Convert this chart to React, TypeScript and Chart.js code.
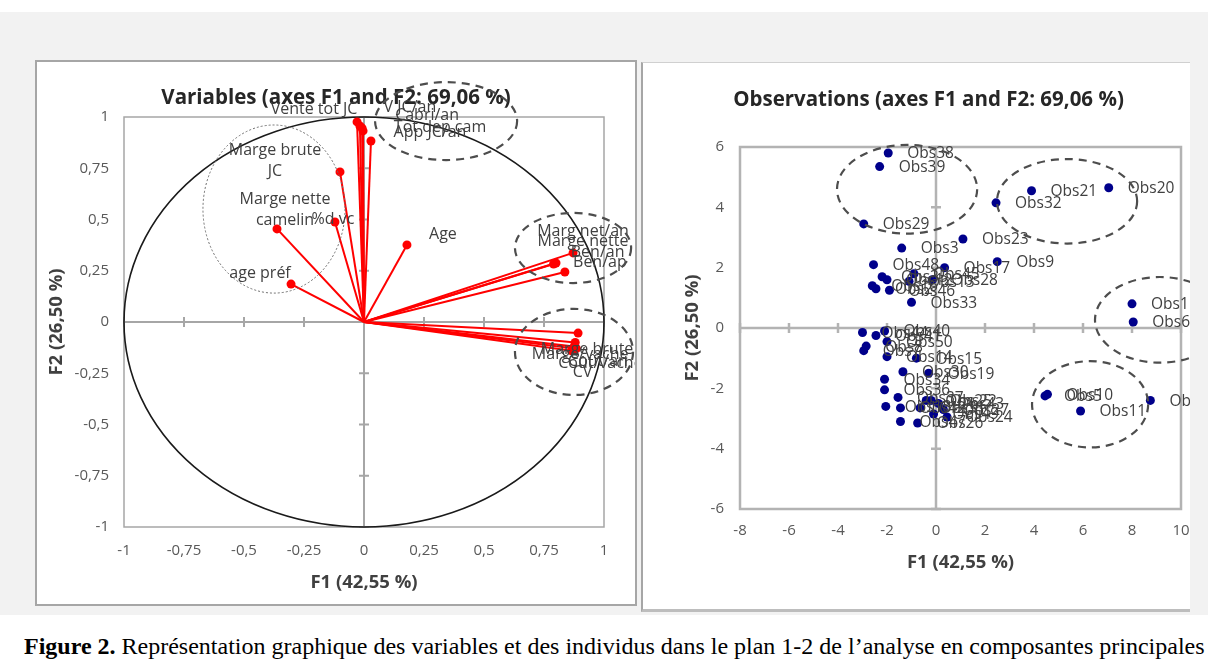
import React, { useEffect, useRef } from "react";
import { Chart, registerables } from "chart.js";

Chart.register(...registerables);

// ---------- Variables (correlation circle) ----------
const VAR_NAMES = [
  "Vente tot JC", "V JC/an", "Cabri/an", "Tot dep cam", "App JC/an",
  "Marge brute\nJC", "Marge nette\ncamelin", "%d vc", "age préf", "Age",
  "Marg net/an", "Marge nette", "Ben/an", "Ben/ap",
  "Marge brute", "Marge/vache", "Coût/an", "Coût/vache", "CV",
];
const VAR_F1 = [-0.029, -0.017, -0.008, -0.004, 0.029, -0.1, -0.3625, -0.121, -0.304, 0.179, 0.871, 0.8, 0.79, 0.837, 0.892, 0.88, 0.875, 0.885, 0.865];
const VAR_F2 = [0.976, 0.956, 0.946, 0.932, 0.883, 0.732, 0.454, 0.488, 0.185, 0.376, 0.337, 0.288, 0.283, 0.244, -0.054, -0.1, -0.12, -0.13, -0.14];
// label offsets (px) from each arrow tip
const VAR_LABEL_DX = [-43, 50, 65, 77, 59, -65, 8, -2, -31, 36, 10, 27, 44, 35, 9, 5, 24, 24, 11];
const VAR_LABEL_DY = [-12, -19, -13, -4, -9, -22, -29, -3, -11, -10, -21, -22, -12, -10, 16, 12, 15, 15, 22];

// dashed groups on the variables chart (data units)
const VAR_GROUP_CX = [0.342, 0.871, 0.875];
const VAR_GROUP_CY = [0.98, 0.361, -0.146];
const VAR_GROUP_RX = [0.296, 0.242, 0.246];
const VAR_GROUP_RY = [0.19, 0.171, 0.21];
const VAR_DOTTED = [-0.375, 0.551, 0.296, 0.41];

// ---------- Observations ----------
const OBS_NAMES = [
  "Obs1", "Obs6", "Obs20", "Obs21", "Obs32", "Obs38", "Obs39", "Obs29", "Obs23", "Obs3",
  "Obs9", "Obs17", "Obs48", "Obs28", "Obs35", "Obs12", "Obs46", "Obs2", "Obs16", "Obs45",
  "Obs13", "Obs33", "Obs5", "Obs10", "Obs11", "Obs4", "Obs44", "Obs41", "Obs40", "Obs7",
  "Obs8", "Obs50", "Obs14", "Obs15", "Obs30", "Obs19", "Obs34", "Obs36", "Obs37", "Obs18",
  "Obs42", "Obs47", "Obs26", "Obs25", "Obs22", "Obs31", "Obs24", "Obs27", "Obs43", "Obs49",
];
const OBS_F1 = [
  8.0, 8.05, 7.05, 3.9, 2.45, -1.95, -2.3, -2.95, 1.1, -1.4,
  2.5, 0.35, -2.55, -0.15, -2.2, -2.0, -1.9, -2.45, -2.6, -0.9,
  -1.1, -1.0, 4.45, 4.55, 5.9, 8.75, -3.0, -2.45, -2.1, -2.95,
  -2.85, -2.0, -2.0, -0.8, -1.35, -0.3, -2.1, -2.1, -1.55, -2.05,
  -1.45, -1.45, -0.75, -0.4, -0.2, -0.65, 0.45, 0.3, 0.1, -0.1,
];
const OBS_F2 = [
  0.8, 0.2, 4.65, 4.55, 4.15, 5.8, 5.35, 3.45, 2.95, 2.65,
  2.2, 2.0, 2.1, 1.6, 1.7, 1.6, 1.25, 1.3, 1.4, 1.8,
  1.55, 0.85, -2.25, -2.2, -2.75, -2.4, -0.15, -0.25, -0.1, -0.75,
  -0.6, -0.45, -0.95, -1.0, -1.45, -1.5, -1.7, -2.05, -2.3, -2.6,
  -2.65, -3.1, -3.15, -2.4, -2.4, -2.65, -2.95, -2.7, -2.5, -2.85,
];
const OBS_GROUP_CX = [-1.18, 5.35, 9.14, 6.29];
const OBS_GROUP_CY = [4.6, 4.2, 0.27, -2.53];
const OBS_GROUP_RX = [2.86, 2.86, 2.65, 2.37];
const OBS_GROUP_RY = [1.47, 1.4, 1.42, 1.43];

const TITLE_VAR = "Variables (axes F1 and F2: 69,06 %)";
const TITLE_OBS = "Observations (axes F1 and F2: 69,06 %)";
const X_TITLE = "F1 (42,55 %)";
const Y_TITLE = "F2 (26,50 %)";

const FONT = "'Open Sans', 'Liberation Sans', sans-serif";
const TEXT = "#404040";
const TICK = "#595959";

const fmt = (v: number) => String(Math.round(v * 100) / 100).replace(".", ",");

function ellipse(ctx: CanvasRenderingContext2D, xs: any, ys: any, cx: number, cy: number, rx: number, ry: number) {
  const px = xs.getPixelForValue(cx);
  const py = ys.getPixelForValue(cy);
  const prx = Math.abs(xs.getPixelForValue(cx + rx) - px);
  const pry = Math.abs(ys.getPixelForValue(cy + ry) - py);
  ctx.beginPath();
  ctx.ellipse(px, py, prx, pry, 0, 0, Math.PI * 2);
}

function frameAndAxes(chart: any, boxColor: string, boxWidth: number, axisColor: string, axisWidth: number) {
  const { ctx, chartArea: a, scales } = chart;
  const xs = scales.x, ys = scales.y;
  ctx.save();
  ctx.strokeStyle = boxColor;
  ctx.lineWidth = boxWidth;
  ctx.strokeRect(a.left, a.top, a.right - a.left, a.bottom - a.top);
  const x0 = xs.getPixelForValue(0);
  const y0 = ys.getPixelForValue(0);
  ctx.strokeStyle = axisColor;
  ctx.lineWidth = axisWidth;
  ctx.beginPath();
  ctx.moveTo(a.left, y0); ctx.lineTo(a.right, y0);
  ctx.moveTo(x0, a.top); ctx.lineTo(x0, a.bottom);
  xs.ticks.forEach((t: any) => {
    const p = xs.getPixelForValue(t.value);
    ctx.moveTo(p, y0 - 5); ctx.lineTo(p, y0 + 5);
  });
  ys.ticks.forEach((t: any) => {
    const p = ys.getPixelForValue(t.value);
    ctx.moveTo(x0 - 5, p); ctx.lineTo(x0 + 5, p);
  });
  ctx.stroke();
  ctx.restore();
}

function makeScales(o: {
  min: number; max: number; step: number; ymin: number; ymax: number; ystep: number;
  yWidth: number; rightSpace: number; xHeight: number; xTickPad: number; yTickPad: number; xTitlePad: number; yTitlePad: number;
}) {
  const tickFont = { family: FONT, size: 15 };
  const titleFont = { family: FONT, size: 18.5, weight: "bold" as const };
  return {
    x: {
      type: "linear" as const, position: "bottom" as const,
      min: o.min, max: o.max,
      grid: { display: false, drawTicks: false },
      border: { display: false },
      ticks: { stepSize: o.step, color: TICK, font: tickFont, padding: o.xTickPad, callback: (v: any) => fmt(Number(v)), maxRotation: 0, autoSkip: false },
      title: { display: true, text: X_TITLE, color: TEXT, font: titleFont, padding: { top: 0, bottom: o.xTitlePad } },
      afterFit: (s: any) => { s.height = o.xHeight; },
    },
    y: {
      type: "linear" as const, position: "left" as const,
      min: o.ymin, max: o.ymax,
      grid: { display: false, drawTicks: false },
      border: { display: false },
      ticks: { stepSize: o.ystep, color: TICK, font: tickFont, padding: o.yTickPad, callback: (v: any) => fmt(Number(v)), autoSkip: false },
      title: { display: true, text: Y_TITLE, color: TEXT, font: titleFont, padding: { top: o.yTitlePad, bottom: 0 } },
      afterFit: (s: any) => { s.width = o.yWidth; },
    },
    // empty spacer on the right so the title stays centred on the whole panel
    spacer: {
      type: "linear" as const, position: "right" as const, axis: "y" as const,
      min: 0, max: 1,
      grid: { display: false, drawTicks: false },
      border: { display: false },
      ticks: { display: false },
      afterFit: (s: any) => { s.width = o.rightSpace; },
    },
  };
}

function VariablesChart() {
  const ref = useRef<HTMLCanvasElement>(null);
  useEffect(() => {
    const canvas = ref.current!;
    const datasets = VAR_NAMES.map((n, i) => ({
      label: n,
      data: [{ x: 0, y: 0 }, { x: VAR_F1[i], y: VAR_F2[i] }],
      showLine: true,
      borderColor: "#ff0000",
      backgroundColor: "#ff0000",
      borderWidth: 2,
      pointRadius: (c: any) => (c.dataIndex === 0 ? 0 : 4.5),
      pointBorderWidth: 0,
      xAxisID: "x",
      yAxisID: "y",
    }));
    const plugin = {
      id: "varDeco",
      beforeDatasetsDraw(chart: any) {
        frameAndAxes(chart, "#a6a6a6", 1.5, "#a6a6a6", 2);
        const { ctx, scales } = chart;
        ctx.save();
        ctx.strokeStyle = "#1a1a1a";
        ctx.lineWidth = 1.6;
        ellipse(ctx, scales.x, scales.y, 0, 0, 1, 1);
        ctx.stroke();
        ctx.restore();
      },
      afterDatasetsDraw(chart: any) {
        const { ctx, scales } = chart;
        const xs = scales.x, ys = scales.y;
        ctx.save();
        ctx.strokeStyle = "#6e6e6e";
        ctx.lineWidth = 1;
        ctx.setLineDash([2, 2]);
        ellipse(ctx, xs, ys, VAR_DOTTED[0], VAR_DOTTED[1], VAR_DOTTED[2], VAR_DOTTED[3]);
        ctx.stroke();
        ctx.setLineDash([]);
        ctx.font = `16px ${FONT}`;
        ctx.fillStyle = TEXT;
        ctx.textAlign = "center";
        ctx.textBaseline = "middle";
        VAR_NAMES.forEach((n, i) => {
          const px = xs.getPixelForValue(VAR_F1[i]) + VAR_LABEL_DX[i];
          const py = ys.getPixelForValue(VAR_F2[i]) + VAR_LABEL_DY[i];
          n.split("\n").forEach((line, k) => ctx.fillText(line, px, py + k * 21));
        });
        ctx.strokeStyle = "#4d4d4d";
        ctx.lineWidth = 2.2;
        ctx.setLineDash([8, 6]);
        VAR_GROUP_CX.forEach((cx, i) => {
          ellipse(ctx, xs, ys, cx, VAR_GROUP_CY[i], VAR_GROUP_RX[i], VAR_GROUP_RY[i]);
          ctx.stroke();
        });
        ctx.restore();
      },
    };
    const chart = new Chart(canvas, {
      type: "scatter",
      data: { datasets },
      options: {
        responsive: false,
        animation: false,
        layout: { padding: 0 },
        plugins: {
          legend: { display: false },
          tooltip: { enabled: false },
          title: {
            display: true, text: TITLE_VAR, color: "#262626",
            font: { family: FONT, size: 20.5, weight: "bold" },
            padding: { top: 23.7, bottom: 6.7 },
          },
        },
        scales: makeScales({
          min: -1, max: 1, step: 0.25, ymin: -1, ymax: 1, ystep: 0.25,
          yWidth: 87, rightSpace: 31, xHeight: 77, xTickPad: 15, yTickPad: 15, xTitlePad: 9.9, yTitlePad: 8.9,
        }) as any,
      },
      plugins: [plugin],
    });
    return () => chart.destroy();
  }, []);
  return <canvas ref={ref} width={598} height={542} style={{ display: "block", width: 598, height: 542 }} />;
}

function ObservationsChart() {
  const ref = useRef<HTMLCanvasElement>(null);
  useEffect(() => {
    const canvas = ref.current!;
    const plugin = {
      id: "obsDeco",
      beforeDatasetsDraw(chart: any) {
        frameAndAxes(chart, "#b3b3b3", 2.5, "#b3b3b3", 2.5);
      },
      afterDatasetsDraw(chart: any) {
        const { ctx, scales } = chart;
        const xs = scales.x, ys = scales.y;
        ctx.save();
        ctx.font = `15.5px ${FONT}`;
        ctx.fillStyle = TEXT;
        ctx.textAlign = "left";
        ctx.textBaseline = "middle";
        OBS_NAMES.forEach((n, i) => {
          ctx.fillText(n, xs.getPixelForValue(OBS_F1[i]) + 19, ys.getPixelForValue(OBS_F2[i]) + 1);
        });
        ctx.strokeStyle = "#4d4d4d";
        ctx.lineWidth = 2.2;
        ctx.setLineDash([8, 6]);
        OBS_GROUP_CX.forEach((cx, i) => {
          ellipse(ctx, xs, ys, cx, OBS_GROUP_CY[i], OBS_GROUP_RX[i], OBS_GROUP_RY[i]);
          ctx.stroke();
        });
        ctx.restore();
      },
    };
    const chart = new Chart(canvas, {
      type: "scatter",
      data: {
        datasets: [{
          label: "Observations",
          data: OBS_NAMES.map((_, i) => ({ x: OBS_F1[i], y: OBS_F2[i] })),
          backgroundColor: "#00008b",
          borderColor: "#00008b",
          pointRadius: 4.5,
          pointBorderWidth: 0,
          xAxisID: "x",
          yAxisID: "y",
        }],
      },
      options: {
        responsive: false,
        animation: false,
        layout: { padding: 0 },
        plugins: {
          legend: { display: false },
          tooltip: { enabled: false },
          title: {
            display: true, text: TITLE_OBS, color: "#262626",
            font: { family: FONT, size: 20.5, weight: "bold" },
            padding: { top: 24.7, bottom: 34.7 },
          },
        },
        scales: makeScales({
          min: -8, max: 10, step: 2, ymin: -6, ymax: 6, ystep: 2,
          yWidth: 97, rightSpace: 33, xHeight: 100, xTickPad: 13, yTickPad: 16, xTitlePad: 34.9, yTitlePad: 38.9,
        }) as any,
      },
      plugins: [plugin],
    });
    return () => chart.destroy();
  }, []);
  return <canvas ref={ref} width={571} height={546} style={{ display: "block", width: 571, height: 546 }} />;
}

export default function App() {
  return (
    <div style={{ position: "fixed", left: 0, top: 0, width: 1208, height: 660, background: "#ffffff", overflow: "hidden" }}>
      <div style={{ position: "absolute", left: 0, top: 12, width: 1208, height: 603, background: "#f2f2f2" }} />
      <div style={{ position: "absolute", left: 35, top: 60, width: 598, height: 542, background: "#fff", border: "2px solid #a6a6a6" }}>
        <VariablesChart />
      </div>
      <div style={{
        position: "absolute", left: 641, top: 62, width: 547, height: 546, background: "#fff",
        borderLeft: "2px solid #a6a6a6", borderTop: "1px solid #d0d0d0", borderBottom: "3px solid #bdbdbd", overflow: "hidden",
      }}>
        <ObservationsChart />
      </div>
      <div style={{
        position: "absolute", left: 24, top: 633, whiteSpace: "nowrap",
        fontFamily: "'Liberation Serif', 'Times New Roman', serif", fontSize: 24, color: "#000",
      }}>
        <b>Figure 2.</b> Représentation graphique des variables et des individus dans le plan 1-2 de l’analyse en composantes principales
      </div>
    </div>
  );
}
